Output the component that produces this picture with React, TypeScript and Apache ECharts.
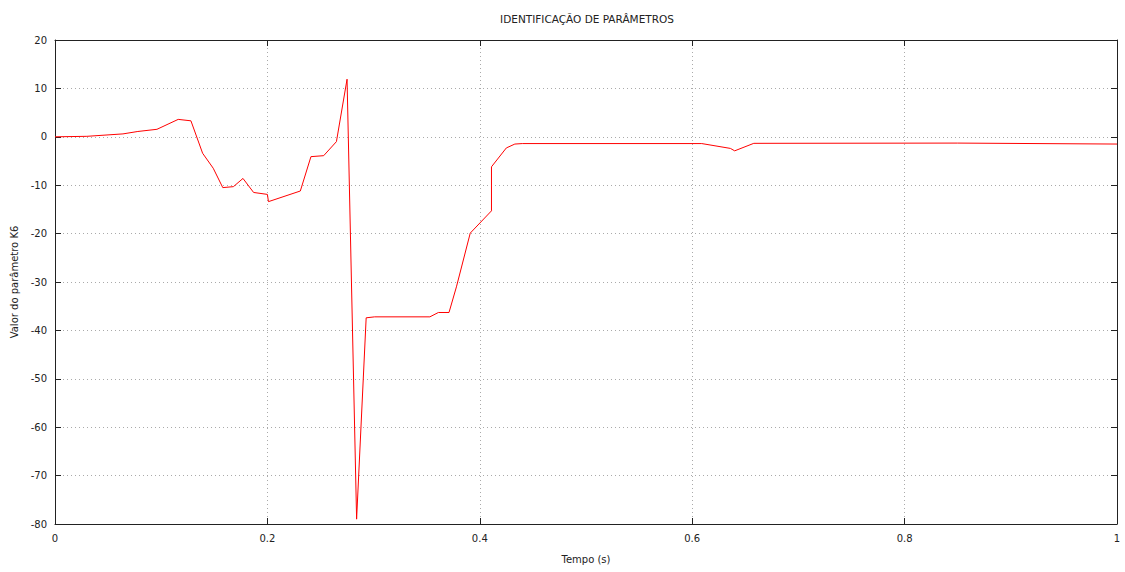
import React, { useEffect, useRef } from "react";
import * as echarts from "echarts";

const titleText = "IDENTIFICAÇÃO DE PARÂMETROS";
const xName = "Tempo (s)";
const yName = "Valor do parâmetro K6";

const time = [
  0, 0.03, 0.064, 0.078, 0.096, 0.116, 0.128, 0.139, 0.149, 0.158, 0.168, 0.177,
  0.187, 0.2, 0.201, 0.231, 0.241, 0.253, 0.265, 0.275, 0.284, 0.293, 0.301, 0.353,
  0.361, 0.371, 0.378, 0.391, 0.411, 0.411, 0.425, 0.433, 0.44, 0.609, 0.636, 0.64,
  0.658, 0.85, 1.0,
];
const k6 = [
  0, 0.1, 0.6, 1.1, 1.55, 3.6, 3.3, -3.4, -6.5, -10.5, -10.3, -8.6,
  -11.5, -11.9, -13.4, -11.2, -4.1, -3.9, -1.0, 11.9, -79, -37.4, -37.2, -37.2,
  -36.3, -36.3, -31, -19.9, -15.3, -6.2, -2.3, -1.5, -1.4, -1.4, -2.4, -2.9,
  -1.35, -1.3, -1.5,
];

const xTicks = { min: 0, max: 1, interval: 0.2 };
const yTicks = { min: -80, max: 20, interval: 10 };

export default function App() {
  const ref = useRef<HTMLDivElement>(null);
  useEffect(() => {
    if (!ref.current) return;
    const chart = echarts.init(ref.current, null, { renderer: "svg" });
    const font = "DejaVu Sans";
    const axisLine = { show: true, onZero: false, lineStyle: { color: "#222", width: 1 } };
    const tick = { show: true, inside: true, length: 6, lineStyle: { color: "#222" } };
    const grid = { show: true, lineStyle: { color: "#aaa", type: [1, 3] as any, width: 1 } };
    chart.setOption({
      animation: false,
      backgroundColor: "#fff",
      textStyle: { fontFamily: font },
      graphic: [
        {
          type: "text",
          x: 587,
          y: 19,
          style: {
            text: titleText,
            fontSize: 10.5,
            fontFamily: font,
            fill: "#222",
            align: "center",
            verticalAlign: "middle",
          },
        },
      ],
      grid: { left: 55, right: 8, top: 40, bottom: 48 },
      xAxis: [
        {
          type: "value",
          position: "bottom",
          ...xTicks,
          name: xName,
          nameLocation: "middle",
          nameGap: 30,
          nameTextStyle: { fontSize: 10, color: "#222" },
          axisLine,
          axisTick: tick,
          axisLabel: { fontSize: 10, color: "#222", margin: 9, formatter: (v: number) => String(Number(v.toFixed(2))) },
          splitLine: grid,
        },
        {
          type: "value",
          position: "top",
          ...xTicks,
          axisLine,
          axisTick: tick,
          axisLabel: { show: false },
          splitLine: { show: false },
        },
      ],
      yAxis: [
        {
          type: "value",
          position: "left",
          ...yTicks,
          name: yName,
          nameLocation: "middle",
          nameGap: 35,
          nameTextStyle: { fontSize: 10, color: "#222" },
          axisLine,
          axisTick: tick,
          axisLabel: { fontSize: 10, color: "#222", margin: 8 },
          splitLine: grid,
        },
        {
          type: "value",
          position: "right",
          ...yTicks,
          axisLine,
          axisTick: tick,
          axisLabel: { show: false },
          splitLine: { show: false },
        },
      ],
      series: [
        {
          type: "line",
          data: time.map((t, i) => [t, k6[i]]),
          showSymbol: false,
          symbol: "none",
          lineStyle: { color: "#ff0000", width: 1 },
          xAxisIndex: 0,
          yAxisIndex: 0,
        },
      ],
    });
    return () => chart.dispose();
  }, []);
  return (
    <div
      ref={ref}
      style={{ position: "fixed", left: 0, top: 0, width: 1125, height: 572 }}
    />
  );
}
